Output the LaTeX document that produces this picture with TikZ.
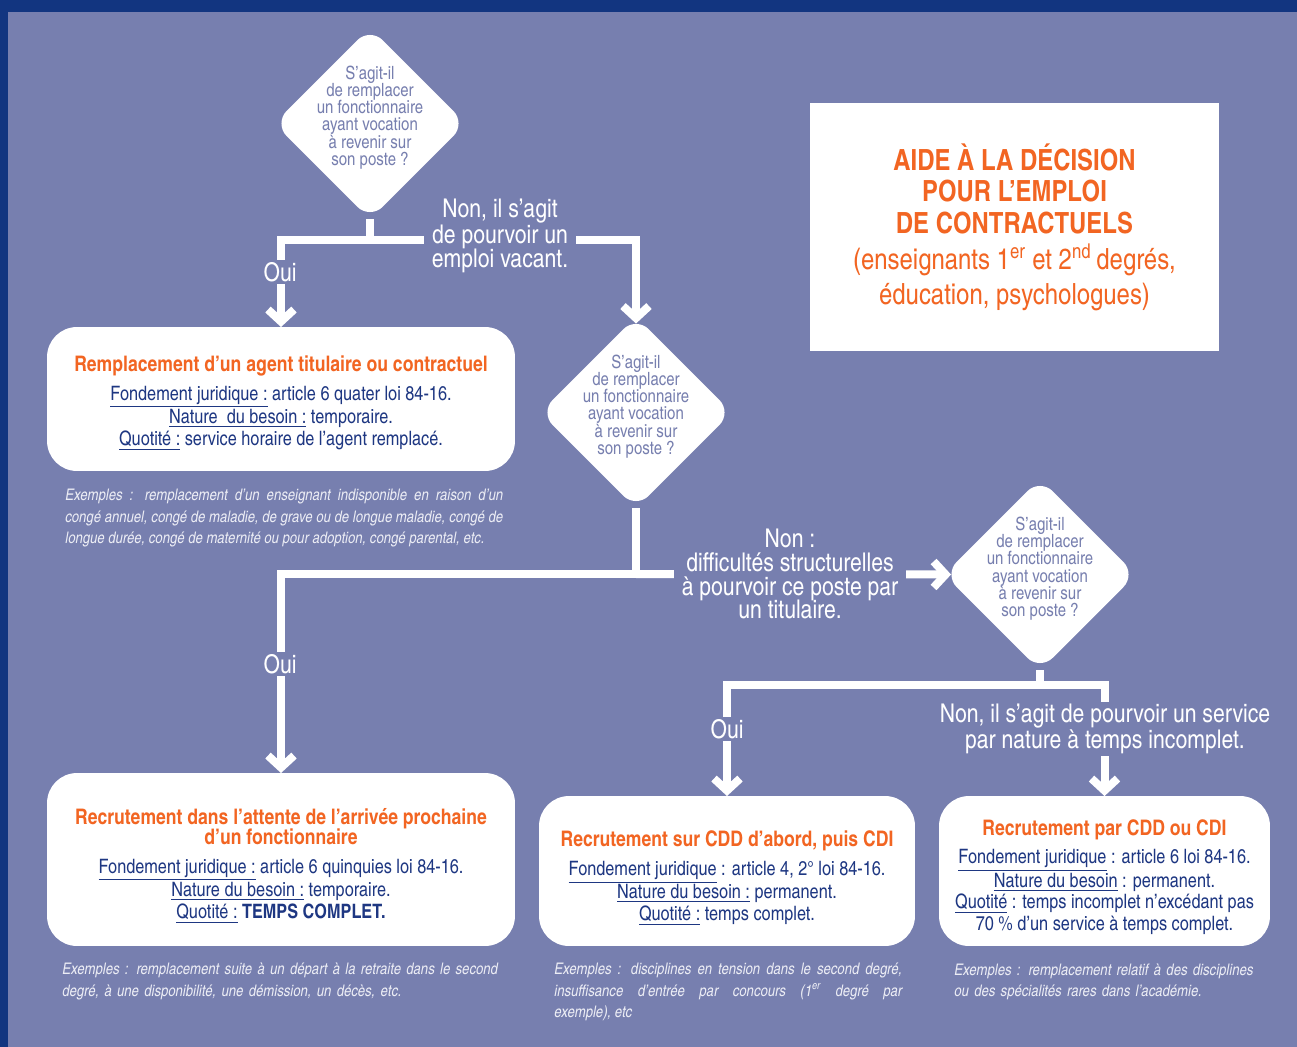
\documentclass[tikz,border=0pt]{standalone}
\usepackage{fontspec}
\setmainfont{texgyreheroscn}[Extension=.otf, UprightFont=*-regular, BoldFont=*-bold, ItalicFont=*-italic, BoldItalicFont=*-bolditalic]
\usepackage{tikz}
\usetikzlibrary{arrows.meta,positioning,shapes.geometric}

\definecolor{fondbleu}{RGB}{119,127,175}
\definecolor{bandeau}{RGB}{18,53,128}
\definecolor{orangetitre}{RGB}{242,101,34}
\definecolor{bleutexte}{RGB}{30,55,130}
\definecolor{exemple}{RGB}{236,237,245}

\newcommand{\souligne}[1]{\underline{#1}}
\newcommand{\titre}[1]{{\color{orangetitre}\bfseries\fontsize{12.2}{13}\selectfont #1}}
\newcommand{\haut}[1]{\rule{0pt}{#1}}

\begin{document}
\begin{tikzpicture}[x=0.02cm, y=-0.02cm, >={Straight Barb[length=0.24cm, width=0.52cm]},
  boite/.style={rectangle, fill=white, rounded corners=0.6cm, inner sep=0pt, outer sep=0pt, align=center, text=bleutexte, font=\fontsize{11.3}{12.2}\selectfont},
  losange/.style={diamond, fill=white, rounded corners=0.36cm, inner sep=0pt, outer sep=0pt, minimum width=3.84cm, minimum height=3.84cm},
  question/.style={text=fondbleu, align=center, inner sep=0pt, font=\fontsize{10.4}{9.85}\selectfont},
  lien/.style={draw=white, line width=0.16cm},
  pil/.style={lien, ->},
  verslosange/.style={shorten >=-0.14cm},
  etiq/.style={fill=fondbleu, text=white, align=center, inner xsep=0.16cm, inner ysep=0.04cm, font=\fontsize{14.7}{13.6}\selectfont},
  exemples/.style={text=exemple, inner sep=0pt, anchor=north west, font=\fontsize{9.1}{12.1}\selectfont\itshape}]
	 \useasboundingbox (0,0) rectangle (1297,1047);
	 \fill[fondbleu] (0,0) rectangle (1297,1047);
	 \fill[bandeau] (0,0) rectangle (1297,12);
	 \fill[bandeau] (0,0) rectangle (8,1047);

	 % titre
	 \node[rectangle, fill=white, minimum width=8.18cm, minimum height=4.96cm, align=center, text=orangetitre, font=\fontsize{16.6}{19.8}\selectfont] (titre) at (1014.5,227)
	  {\bfseries\fontsize{16.6}{18}\selectfont AIDE À LA DÉCISION\\[-1.7pt]
	   \bfseries\fontsize{16.6}{18}\selectfont POUR L’EMPLOI\\[-1.7pt]
	   \bfseries\fontsize{16.6}{18}\selectfont DE CONTRACTUELS\\[0.6pt]
	   (enseignants 1\textsuperscript{er} et 2\textsuperscript{nd}\,degrés,\\
	   éducation, psychologues)};

	 % questions
	 \node[losange] (q1) at (370,123.5) {};
	 \node[losange] (q2) at (636,412.5) {};
	 \node[losange] (q3) at (1040,574.5) {};
	 \foreach \q in {q1,q2,q3}
	  \node[question] (\q txt) at ([yshift=0.12cm]\q.center) {S’agit-il\\ de remplacer\\ un fonctionnaire\\ ayant vocation\\ à revenir sur\\ son poste ?};

	 % boites
	 \node[boite, minimum width=9.36cm, minimum height=2.88cm] (remp) at (281,399)
	  {\haut{13.5pt}\titre{Remplacement d’un agent titulaire ou contractuel}\\[4pt]
	   \souligne{Fondement juridique :} article 6 quater loi 84-16.\\
	   \souligne{Nature\ \ du besoin :} temporaire.\\
	   \souligne{Quotité :} service horaire de l’agent remplacé.};
	 \node[boite, minimum width=9.36cm, minimum height=3.46cm] (attente) at (281,859.5)
	  {\haut{16pt}\titre{Recrutement dans l’attente de l’arrivée prochaine}\\[-0.5pt]
	   \titre{d’un fonctionnaire}\\[4pt]
	   \souligne{Fondement juridique :} article 6 quinquies loi 84-16.\\
	   \souligne{Nature du besoin :} temporaire.\\
	   \souligne{Quotité :} \textbf{TEMPS COMPLET.}};
	 \node[boite, minimum width=7.52cm, minimum height=3cm] (cdd) at (727,871)
	  {\haut{17pt}\titre{Recrutement sur CDD d’abord, puis CDI}\\[4pt]
	   \souligne{Fondement juridique} : article 4, 2° loi 84-16.\\
	   \souligne{Nature du besoin :} permanent.\\
	   \souligne{Quotité :} temps complet.};
	 \node[boite, minimum width=6.62cm, minimum height=3cm] (incomplet) at (1104.5,871)
	  {\haut{15.5pt}\titre{Recrutement par CDD ou CDI}\\[4pt]
	   \souligne{Fondement juridique} : article 6 loi 84-16.\\
	   \souligne{Nature du besoin} : permanent.\\
	   \souligne{Quotité} : temps incomplet n’excédant pas\\
	   70 \% d’un service à temps complet.};

	 % liens
	 \coordinate (j1) at (370,240);
	 \coordinate (j2) at (636,574);
	 \coordinate (j3) at (1040,685);
	 \draw[lien] (q1.south) -- (j1);
	 \draw[pil] (j1) -| (remp.north);
	 \draw[pil, verslosange] (j1) -| (q2.north);
	 \draw[lien] (q2.south) -- (j2);
	 \draw[pil] (j2) -| (attente.north);
	 \draw[pil, verslosange] (j2) -- (q3.west);
	 \draw[lien] (q3.south) -- (j3);
	 \draw[pil] (j3) -| (cdd.north);
	 \draw[pil] (j3) -| (incomplet.north);

	 % etiquettes
	 \node[etiq] (oui1) at (280,272) {Oui};
	 \node[etiq] (non1) at (500,236) {Non, il s’agit\\ de pourvoir un\\ emploi vacant.};
	 \node[etiq] (oui2) at (280,664) {Oui};
	 \node[etiq] (non2) at (790,574) {Non :\\ difficultés structurelles\\ à pourvoir ce poste par\\ un titulaire.};
	 \node[etiq] (oui3) at (727,729) {Oui};
	 \node[etiq] (non3) at (1105,729) {Non, il s’agit de pourvoir un service\\ par nature à temps incomplet.};

	 % exemples
	 \node[exemples, text width=8.76cm, align=justify] (ex1) at (65,489)
	  {Exemples : remplacement d’un enseignant indisponible en raison d’un\linebreak congé annuel, congé de maladie, de grave ou de longue maladie, congé de\linebreak longue durée, congé de maternité ou pour adoption, congé parental, etc.};
	 \node[exemples, text width=9cm, align=left] (ex2) at (62,963)
	  {Exemples : remplacement suite à un départ à la retraite dans le second\\ degré, à une disponibilité, une démission, un décès, etc.};
	 \node[exemples, text width=6.96cm, align=justify] (ex3) at (554,963)
	  {Exemples : disciplines en tension dans le second degré,\linebreak insuffisance d’entrée par concours (1\textsuperscript{er} degré par\linebreak exemple), etc};
	 \node[exemples, text width=6.5cm, align=left] (ex4) at (954,963)
	  {Exemples : remplacement relatif à des disciplines\\ ou des spécialités rares dans l’académie.};
	\end{tikzpicture}
\end{document}
